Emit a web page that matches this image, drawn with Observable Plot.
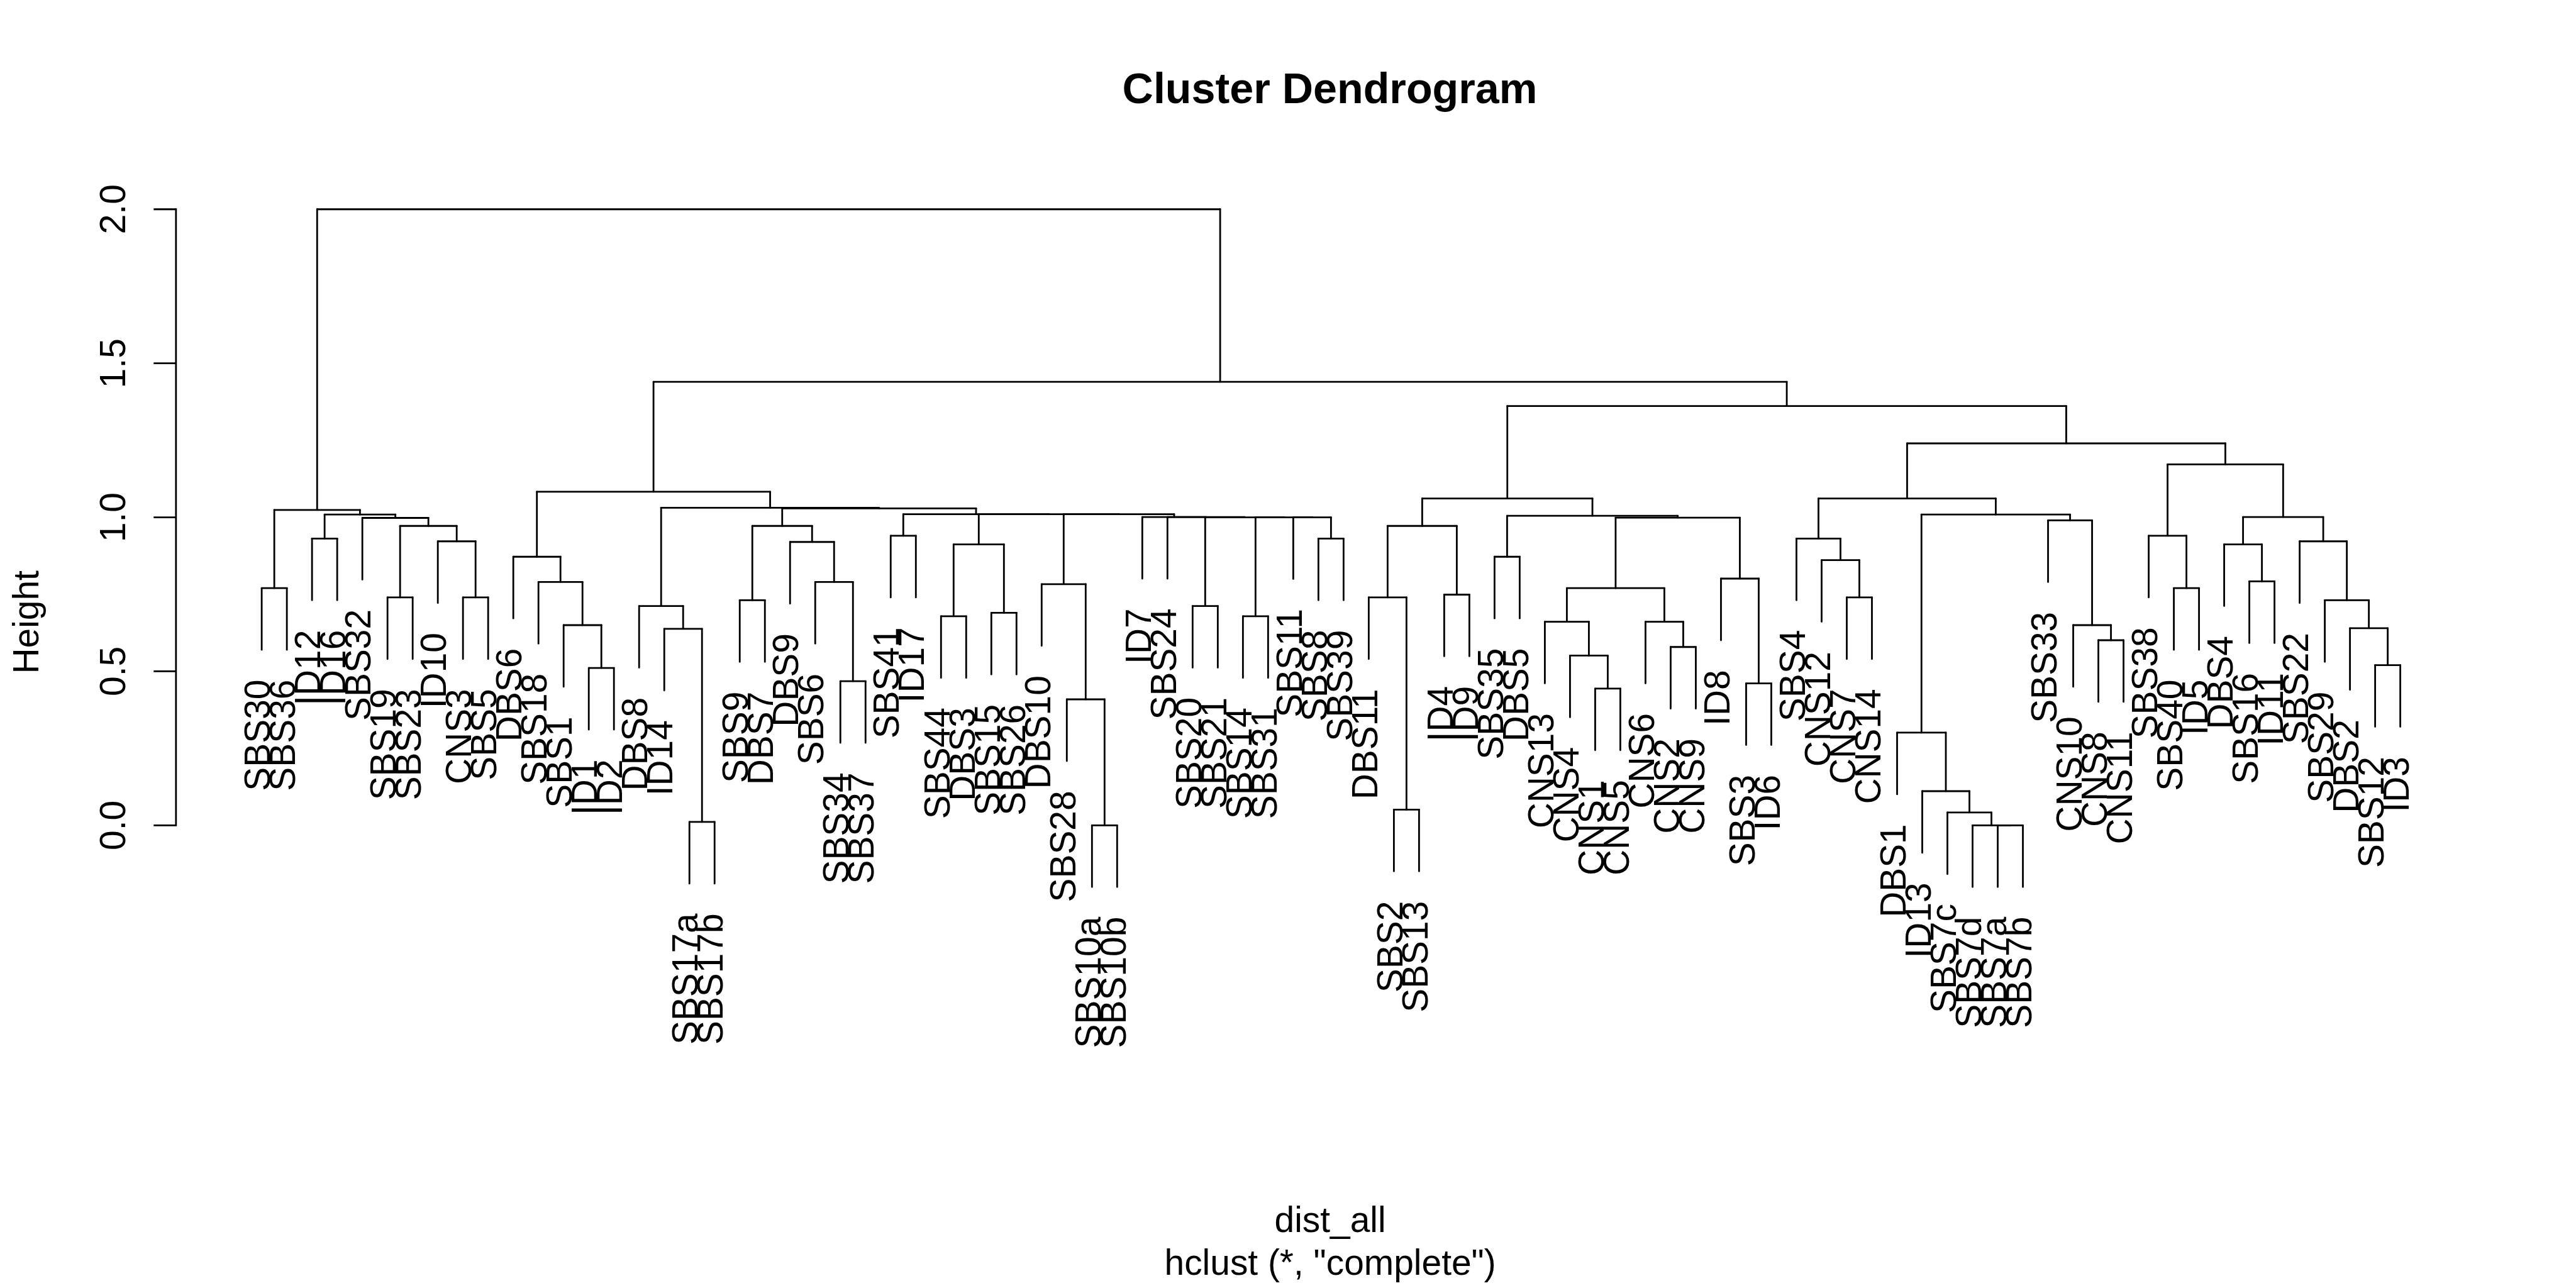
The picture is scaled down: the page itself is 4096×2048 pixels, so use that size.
<!DOCTYPE html>
<html>
<head>
<meta charset="utf-8">
<script src="https://cdn.jsdelivr.net/npm/d3@7"></script>
<script src="https://cdn.jsdelivr.net/npm/@observablehq/plot@0.6"></script>
<style>
  html, body { margin: 0; padding: 0; background: #fff; }
  #chart { width: 4096px; height: 2048px; overflow: hidden; }
</style>
</head>
<body>
<div id="chart"></div>
<script>
// ---- data ----
const leaves = [
  "SBS30","SBS36","ID12","ID16","SBS32","SBS19","SBS23","ID10","CNS3","SBS5",
  "DBS6","SBS18","SBS1","ID1","ID2","DBS8","ID14","SBS17a","SBS17b","SBS9",
  "DBS7","DBS9","SBS6","SBS34","SBS37","SBS41","ID17","SBS44","DBS3","SBS15",
  "SBS26","DBS10","SBS28","SBS10a","SBS10b","ID7","SBS24","SBS20","SBS21","SBS14",
  "SBS31","SBS11","SBS8","SBS39","DBS11","SBS2","SBS13","ID4","ID9","SBS35",
  "DBS5","CNS13","CNS4","CNS1","CNS5","CNS6","CNS2","CNS9","ID8","SBS3",
  "ID6","SBS4","CNS12","CNS7","CNS14","DBS1","ID13","SBS7c","SBS7d","SBS7a",
  "SBS7b","SBS33","CNS10","CNS8","CNS11","SBS38","SBS40","ID5","DBS4","SBS16",
  "ID11","SBS22","SBS29","DBS2","SBS12","ID3"
];

// merge steps: [left, right, height]; "#k" refers to the k-th merge (1-based)
const merges = [
  ["SBS30","SBS36",0.770], ["ID12","ID16",0.931], ["SBS19","SBS23",0.740], ["CNS3","SBS5",0.740],
  ["ID10","#4",0.922], ["#3","#5",0.972], ["SBS32","#6",0.998], ["#2","#7",1.009],
  ["#1","#8",1.024], ["ID1","ID2",0.511], ["SBS1","#10",0.650], ["SBS18","#11",0.790],
  ["DBS6","#12",0.872], ["SBS17a","SBS17b",0.011], ["ID14","#14",0.638], ["DBS8","#15",0.712],
  ["SBS9","DBS7",0.731], ["SBS34","SBS37",0.468], ["SBS6","#18",0.790], ["DBS9","#19",0.920],
  ["#17","#20",0.972], ["SBS41","ID17",0.940], ["SBS44","DBS3",0.679], ["SBS15","SBS26",0.690],
  ["#23","#24",0.912], ["SBS10a","SBS10b",0.000], ["SBS28","#26",0.409], ["DBS10","#27",0.783],
  ["SBS20","SBS21",0.712], ["SBS14","SBS31",0.679], ["SBS8","SBS39",0.931], ["SBS11","#31",1.000],
  ["#30","#32",1.000], ["#29","#33",1.000], ["SBS24","#34",1.001], ["ID7","#35",1.001],
  ["#28","#36",1.010], ["#25","#37",1.010], ["#22","#38",1.010], ["#21","#39",1.029],
  ["#16","#40",1.031], ["#13","#41",1.083], ["SBS2","SBS13",0.051], ["DBS11","#43",0.740],
  ["ID4","ID9",0.749], ["#44","#45",0.972], ["SBS35","DBS5",0.872], ["CNS1","CNS5",0.444],
  ["CNS4","#48",0.551], ["CNS13","#49",0.661], ["CNS2","CNS9",0.579], ["CNS6","#51",0.661],
  ["#50","#52",0.770], ["SBS3","ID6",0.461], ["ID8","#54",0.801], ["#53","#55",0.999],
  ["#47","#56",1.005], ["#46","#57",1.061], ["CNS7","CNS14",0.740], ["CNS12","#59",0.861],
  ["SBS4","#60",0.931], ["SBS7a","SBS7b",0.000], ["SBS7d","#62",0.000], ["SBS7c","#63",0.042],
  ["ID13","#64",0.111], ["DBS1","#65",0.301], ["CNS8","CNS11",0.601], ["CNS10","#67",0.650],
  ["SBS33","#68",0.990], ["#66","#69",1.009], ["#61","#70",1.061], ["SBS40","ID5",0.770],
  ["SBS38","#72",0.940], ["SBS16","ID11",0.792], ["DBS4","#74",0.912], ["SBS12","ID3",0.520],
  ["DBS2","#76",0.640], ["SBS29","#77",0.731], ["SBS22","#78",0.922], ["#75","#79",1.001],
  ["#73","#80",1.172], ["#71","#81",1.240], ["#58","#82",1.361], ["#42","#83",1.440],
  ["#9","#84",2.000]
];

const yTicks = [0, 0.5, 1.0, 1.5, 2.0];
const hang = 0.2;                     // leaf drop below its merge height
const titleText = "Cluster Dendrogram";
const xLabelText = "dist_all";
const subText = 'hclust (*, "complete")';
const yLabelText = "Height";

// ---- build dendrogram segments from the merges ----
const leafPos = new Map(leaves.map((d, i) => [d, i + 1]));
const nodes = [];
const segments = [];
const leafLabels = [];
function child(ref) {
  if (ref.startsWith("#")) return nodes[+ref.slice(1) - 1];
  return {x: leafPos.get(ref), h: null, label: ref};
}
for (const [a, b, h] of merges) {
  const A = child(a), B = child(b);
  for (const C of [A, B]) {
    const bottom = C.h === null ? h - hang : C.h;
    segments.push({x1: C.x, y1: h, x2: C.x, y2: bottom});
    if (C.h === null) leafLabels.push({x: C.x, y: bottom, label: C.label});
  }
  segments.push({x1: A.x, y1: h, x2: B.x, y2: h});
  nodes.push({x: (A.x + B.x) / 2, h});
}

// ---- layout (reference px scaled to window) ----
const s = 4096 / 7200;
const fs = 100 * s;           // base font size
const font = "'Liberation Sans', Arial, Helvetica, sans-serif";

const chart = Plot.plot({
  width: 4096,
  height: 2048,
  marginTop: 584 * s,
  marginBottom: 2048 - 2306 * s,
  marginLeft: 491 * s,
  marginRight: 160,
  x: {domain: [1, leaves.length], range: [730.6 * s, 6708 * s], axis: null},
  y: {domain: [0, 2]},
  style: {fontFamily: font, background: "#fff", color: "#000"},
  marks: [
    Plot.frame({anchor: "left", stroke: "#000", strokeWidth: 2.8}),
    // tick marks
    Plot.axisY({
      ticks: yTicks,
      tickSize: 35,
      text: null,
      label: null,
      stroke: "#000",
      strokeWidth: 2.8
    }),
    // tick labels
    Plot.axisY({
      ticks: yTicks,
      tickFormat: d => d.toFixed(1),
      tickSize: 0,
      tickPadding: 99.5,
      tickRotate: -90,
      textAnchor: "middle",
      lineAnchor: "middle",
      fontSize: fs,
      label: null,
      fill: "#000"
    }),
    Plot.link(segments, {
      x1: "x1", y1: "y1", x2: "x2", y2: "y2",
      stroke: "#000", strokeWidth: 2.8, strokeLinecap: "round"
    }),
    Plot.text(leafLabels, {
      x: "x", y: "y", text: "label",
      rotate: -90, textAnchor: "end", lineAnchor: "middle",
      dy: 0.833 * fs, dx: -5,
      fontSize: fs, fill: "#000"
    })
  ]
});

const svg = d3.select(chart);
svg.append("text")
  .attr("x", 3717 * s).attr("y", 289 * s)
  .attr("text-anchor", "middle")
  .attr("font-family", font).attr("font-weight", "bold")
  .attr("font-size", 120 * s).attr("fill", "#000")
  .text(titleText);
svg.append("text")
  .attr("x", 3718 * s).attr("y", 3443 * s)
  .attr("text-anchor", "middle")
  .attr("font-family", font).attr("font-size", fs).attr("fill", "#000")
  .text(xLabelText);
svg.append("text")
  .attr("x", 3718 * s).attr("y", 3563 * s)
  .attr("text-anchor", "middle")
  .attr("font-family", font).attr("font-size", fs).attr("fill", "#000")
  .text(subText);
svg.append("text")
  .attr("transform", `translate(${107 * s},${1739 * s}) rotate(-90)`)
  .attr("text-anchor", "middle")
  .attr("font-family", font).attr("font-size", fs).attr("fill", "#000")
  .text(yLabelText);

document.getElementById("chart").appendChild(chart);
</script>
</body>
</html>
